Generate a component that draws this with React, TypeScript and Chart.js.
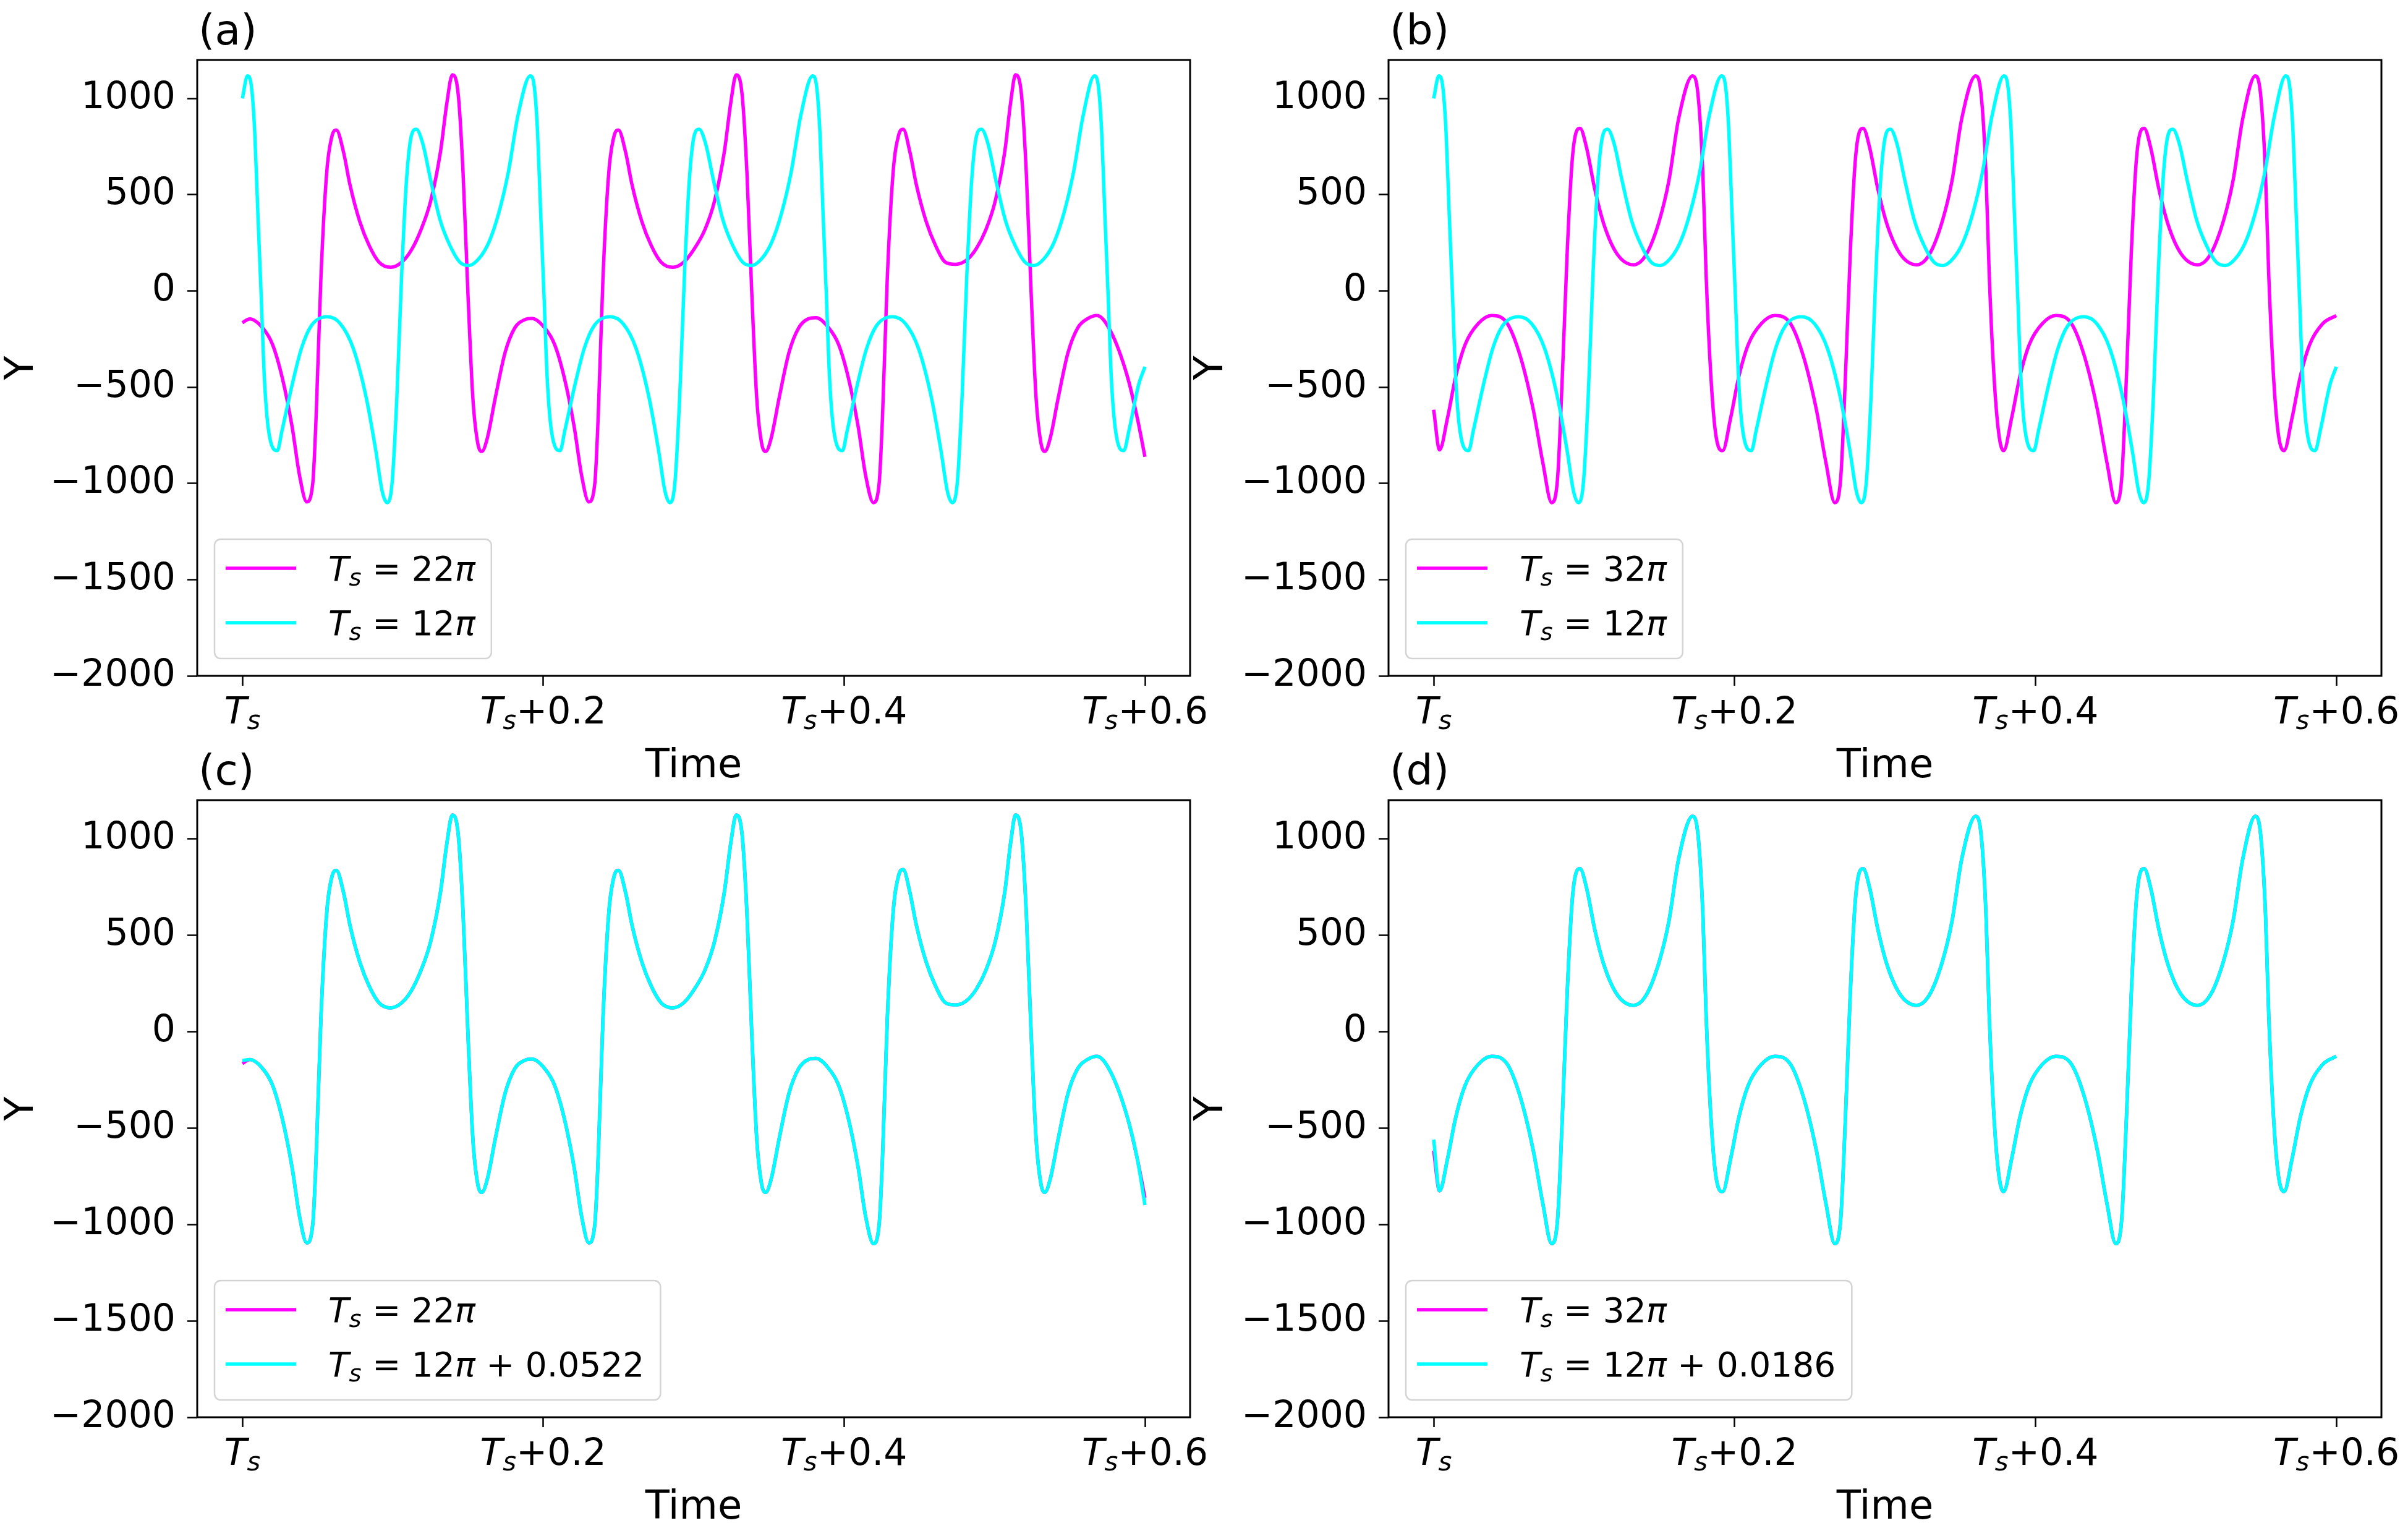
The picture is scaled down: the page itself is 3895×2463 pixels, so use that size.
import React, { useEffect, useRef } from "react";
import { Chart, registerables } from "chart.js";

Chart.register(...registerables);

// ---------- data ----------
// Ts = 22π (time offset from Ts, Y value)
const t22 = [
  0, 0.005, 0.0135, 0.02, 0.0264, 0.033, 0.038, 0.0428, 0.0468, 0.049,
  0.0522, 0.0561, 0.0597, 0.0625, 0.0672, 0.0715, 0.078, 0.0844, 0.0909, 0.0986,
  0.1059, 0.1124, 0.1188, 0.1252, 0.1317, 0.136, 0.1396, 0.1435, 0.1467, 0.15,
  0.1532, 0.1564, 0.1592, 0.1628, 0.1682, 0.1747, 0.1811, 0.1875,
  0.1925, 0.201, 0.2075, 0.2139, 0.2205, 0.2255, 0.2303, 0.2343, 0.2365, 0.2397,
  0.2436, 0.2472, 0.25, 0.2547, 0.259, 0.2655, 0.2719, 0.2784, 0.2861, 0.2934,
  0.2999, 0.3075, 0.3139, 0.3204, 0.3247, 0.3283, 0.3322, 0.3354, 0.3387, 0.3419,
  0.3451, 0.3479, 0.3515, 0.3569, 0.3634, 0.3698, 0.3762,
  0.3813, 0.3898, 0.3963, 0.4027, 0.4093, 0.4143, 0.4195, 0.4233, 0.4255, 0.4287,
  0.4326, 0.4362, 0.4393, 0.4437, 0.448, 0.4545, 0.4609, 0.4674, 0.4741, 0.4814,
  0.4879, 0.4943, 0.5005, 0.5068, 0.5107, 0.514, 0.5179, 0.5211, 0.5244, 0.5276,
  0.5308, 0.5334, 0.537, 0.5424, 0.5489, 0.5553, 0.5617,
  0.5681, 0.5774, 0.5884, 0.5949, 0.6,
];
const y22 = [
  -165, -145, -192, -277, -447, -702, -958, -1096, -1000, -660,
  64, 617, 808, 836, 723, 553, 362, 234, 149, 123,
  149, 213, 319, 468, 723, 979, 1123, 1021, 617, -21,
  -553, -788, -834, -766, -553, -319, -192, -150,
  -143, -192, -277, -447, -702, -958, -1096, -1000, -660, 64,
  617, 808, 836, 723, 553, 362, 234, 149, 123, 149,
  213, 319, 468, 723, 979, 1123, 1021, 617, -21, -553,
  -788, -834, -766, -553, -319, -192, -145,
  -139, -192, -277, -447, -702, -958, -1100, -1000, -660, 64,
  617, 808, 840, 723, 553, 362, 234, 149, 138, 160,
  220, 319, 468, 723, 979, 1123, 1021, 617, -21, -553,
  -788, -834, -766, -553, -319, -192, -145,
  -128, -213, -447, -660, -862,
];

// Ts = 12π
const t12 = [
  0, 0.0034, 0.006, 0.0082, 0.0103, 0.0125, 0.0146, 0.0174, 0.0232, 0.0264,
  0.033, 0.0393, 0.0458, 0.0565, 0.0651, 0.0737, 0.0823, 0.0887, 0.093, 0.0962,
  0.0995, 0.1027, 0.1059, 0.1091, 0.1124, 0.1156, 0.1199, 0.1252, 0.1317, 0.1381,
  0.1446, 0.1506, 0.1575, 0.164, 0.1704, 0.1768, 0.1833,
  0.1914, 0.194, 0.1962, 0.1983, 0.2005, 0.2026, 0.2054, 0.2112, 0.2144, 0.221,
  0.2273, 0.2338, 0.2445, 0.2531, 0.2617, 0.2703, 0.2767, 0.281, 0.2842, 0.2875,
  0.2907, 0.2939, 0.2971, 0.3004, 0.3036, 0.3079, 0.3132, 0.3197, 0.3261, 0.3326,
  0.3386, 0.3455, 0.352, 0.3584, 0.3648, 0.3713,
  0.3791, 0.3817, 0.3839, 0.386, 0.3882, 0.3903, 0.3931, 0.3989, 0.4021, 0.4087,
  0.415, 0.4215, 0.4322, 0.4408, 0.4494, 0.458, 0.4644, 0.4687, 0.4719, 0.4752,
  0.4784, 0.4816, 0.4848, 0.4881, 0.4913, 0.4956, 0.5009, 0.5074, 0.5138, 0.5203,
  0.5263, 0.5332, 0.5397, 0.5461, 0.5525, 0.559,
  0.5664, 0.569, 0.5712, 0.5733, 0.5755, 0.5776, 0.5804, 0.5859, 0.5894, 0.5957, 0.6,
];
const y12 = [
  1000, 1117, 1064, 830, 404, -21, -447, -724, -830, -724,
  -490, -298, -181, -134, -170, -298, -553, -830, -1043, -1100,
  -1000, -553, 85, 574, 808, 840, 766, 574, 362, 234,
  149, 132, 170, 255, 404, 617, 915,
  1117, 1064, 830, 404, -21, -447, -724, -830, -724, -490,
  -298, -181, -134, -170, -298, -553, -830, -1043, -1100, -1000,
  -553, 85, 574, 808, 840, 766, 574, 362, 234, 149,
  132, 170, 255, 404, 617, 915,
  1117, 1064, 830, 404, -21, -447, -724, -830, -724, -490,
  -298, -181, -134, -170, -298, -553, -830, -1043, -1100, -1000,
  -553, 85, 574, 808, 840, 766, 574, 362, 234, 149,
  132, 170, 255, 404, 617, 915,
  1117, 1064, 830, 404, -21, -447, -724, -830, -724, -490, -394,
];

// Ts = 32π
const t32 = [
  0, 0.0039, 0.0092, 0.0146, 0.021, 0.0296, 0.0387, 0.049, 0.0576, 0.0662,
  0.0726, 0.0784, 0.0823, 0.0855, 0.0887, 0.0919, 0.0945, 0.0973, 0.1016, 0.107,
  0.1134, 0.122, 0.1328, 0.1414, 0.1499, 0.1564, 0.1628, 0.1721, 0.1757, 0.1789,
  0.1811, 0.1843, 0.1875,
  0.1921, 0.1974, 0.2028, 0.2092, 0.2178, 0.2269, 0.2372, 0.2458, 0.2544, 0.2608,
  0.2666, 0.2705, 0.2737, 0.2769, 0.2801, 0.2827, 0.2855, 0.2898, 0.2952, 0.3016,
  0.3102, 0.321, 0.3296, 0.3381, 0.3446, 0.351, 0.3603, 0.3639, 0.3671, 0.3693,
  0.3725, 0.3757,
  0.3789, 0.3842, 0.3896, 0.396, 0.4046, 0.4137, 0.424, 0.4326, 0.4412, 0.4476,
  0.4534, 0.4573, 0.4605, 0.4637, 0.4669, 0.4695, 0.4723, 0.4766, 0.482, 0.4884,
  0.497, 0.5078, 0.5164, 0.5249, 0.5314, 0.5378, 0.5462, 0.5497, 0.5529, 0.5551,
  0.5583, 0.5615,
  0.5653, 0.5706, 0.576, 0.5824, 0.591, 0.6,
];
const y32 = [
  -617, -826, -660, -447, -277, -170, -128, -170, -340, -617,
  -894, -1100, -979, -447, 191, 660, 819, 845, 745, 532,
  340, 191, 136, 191, 362, 574, 894, 1117, 1021, 617,
  85, -447, -745,
  -830, -660, -447, -277, -170, -128, -170, -340, -617, -894,
  -1100, -979, -447, 191, 660, 819, 845, 745, 532, 340,
  191, 136, 191, 362, 574, 894, 1117, 1021, 617, 85,
  -447, -745,
  -830, -660, -447, -277, -170, -128, -170, -340, -617, -894,
  -1100, -979, -447, 191, 660, 819, 845, 745, 532, 340,
  191, 136, 191, 362, 574, 894, 1117, 1021, 617, 85,
  -447, -745,
  -830, -660, -447, -277, -170, -128,
];

// Ts = 12π + 0.0522 follows the 22π curve; only its ends differ visibly
const cCyanStart = -150;
const cCyanEnd = -900;
// Ts = 12π + 0.0186 follows the 32π curve; only its start differs visibly
const dCyanStart = -560;

const y12c = y22.map((v, i) => (i === 0 ? cCyanStart : i === y22.length - 1 ? cCyanEnd : v));
const y12d = y32.map((v, i) => (i === 0 ? dCyanStart : v));

const xTicks = [0, 0.2, 0.4, 0.6];
const xTickSuffix = ["", "+0.2", "+0.4", "+0.6"];
const yTicks = [-2000, -1500, -1000, -500, 0, 500, 1000];
const panelLabels = ["(a)", "(b)", "(c)", "(d)"];
const legendA = ["22π", "12π"];
const legendB = ["32π", "12π"];
const legendC = ["22π", "12π + 0.0522"];
const legendD = ["32π", "12π + 0.0186"];

// ---------- styling ----------
const FONT = '"DejaVu Sans", "Noto Sans", sans-serif';
const MAGENTA = "#ff00ff";
const CYAN = "#00ffff";
const TICK_SIZE = 60;
const AXIS_TITLE_SIZE = 64;
const LEGEND_SIZE = 55;
const LABEL_SIZE = 68;
const LINE_W = 5.5;

type Seg = { s: string; it?: boolean; sub?: boolean };

function drawSegs(ctx: CanvasRenderingContext2D, segs: Seg[], x: number, baseline: number, size: number, draw: boolean) {
  let w = 0;
  for (const g of segs) {
    if (!g.s) continue;
    const fs = g.sub ? size * 0.7 : size;
    ctx.font = `${g.it ? "italic " : ""}${fs}px ${FONT}`;
    if (draw) ctx.fillText(g.s, x + w, baseline + (g.sub ? size * 0.15 : 0));
    w += ctx.measureText(g.s).width;
  }
  return w;
}

function legendSegs(label: string): Seg[] {
  const idx = label.indexOf("π");
  return [
    { s: "T", it: true },
    { s: "s", it: true, sub: true },
    { s: " = " + label.slice(0, idx) },
    { s: "π", it: true },
    { s: label.slice(idx + 1) },
  ];
}

type Series = { t: number[]; y: number[]; color: string; name: string };
type PanelCfg = {
  key: string;
  label: string;
  left: number;
  top: number;
  width: number;
  height: number;
  area: { l: number; t: number; r: number; b: number };
  timeY: number;
  legendW: number;
  series: Series[];
};

const PANELS: PanelCfg[] = [
  {
    key: "a", label: panelLabels[0], left: 0, top: 0, width: 1950, height: 1280,
    area: { l: 319, t: 97, r: 1925, b: 1093 }, timeY: 1240, legendW: 447,
    series: [
      { t: t22, y: y22, color: MAGENTA, name: legendA[0] },
      { t: t12, y: y12, color: CYAN, name: legendA[1] },
    ],
  },
  {
    key: "b", label: panelLabels[1], left: 1924, top: 0, width: 1971, height: 1280,
    area: { l: 322, t: 97, r: 1928, b: 1093 }, timeY: 1240, legendW: 447,
    series: [
      { t: t32, y: y32, color: MAGENTA, name: legendB[0] },
      { t: t12, y: y12, color: CYAN, name: legendB[1] },
    ],
  },
  {
    key: "c", label: panelLabels[2], left: 0, top: 1190, width: 1950, height: 1273,
    area: { l: 319, t: 104, r: 1925, b: 1102 }, timeY: 2439, legendW: 714,
    series: [
      { t: t22, y: y22, color: MAGENTA, name: legendC[0] },
      { t: t22, y: y12c, color: CYAN, name: legendC[1] },
    ],
  },
  {
    key: "d", label: panelLabels[3], left: 1924, top: 1190, width: 1971, height: 1273,
    area: { l: 322, t: 104, r: 1928, b: 1102 }, timeY: 2439, legendW: 714,
    series: [
      { t: t32, y: y32, color: MAGENTA, name: legendD[0] },
      { t: t32, y: y12d, color: CYAN, name: legendD[1] },
    ],
  },
];

function fmtY(v: number) {
  return v < 0 ? "\u2212" + Math.abs(v) : String(v);
}

function makeConfig(p: PanelCfg): any {
  const decor = {
    id: "decor" + p.key,
    afterDraw(chart: any) {
      const ctx: CanvasRenderingContext2D = chart.ctx;
      const a = chart.chartArea;
      ctx.save();
      // frame (all four spines)
      ctx.strokeStyle = "#000";
      ctx.lineWidth = 3;
      ctx.strokeRect(a.left, a.top, a.right - a.left, a.bottom - a.top);
      // panel label
      ctx.fillStyle = "#000";
      ctx.textAlign = "left";
      ctx.textBaseline = "alphabetic";
      ctx.font = `${LABEL_SIZE}px ${FONT}`;
      ctx.fillText(p.label, a.left + 2, a.top - 25);
      // x tick labels (T_s + offset)
      const xs = chart.scales.x;
      xTicks.forEach((v, i) => {
        const segs: Seg[] = [{ s: "T", it: true }, { s: "s", it: true, sub: true }, { s: xTickSuffix[i] }];
        const w = drawSegs(ctx, segs, 0, 0, TICK_SIZE, false);
        drawSegs(ctx, segs, xs.getPixelForValue(v) - w / 2, a.bottom + 77, TICK_SIZE, true);
      });
      // legend
      const rowsW = p.series.map((s) => drawSegs(ctx, legendSegs(s.name), 0, 0, LEGEND_SIZE, false));
      const bw = Math.max(p.legendW, 184 + Math.max(...rowsW) + 26);
      const bh = 193;
      const bx = a.left + 28;
      const by = a.bottom - 28 - bh;
      const r = 10;
      ctx.beginPath();
      ctx.moveTo(bx + r, by);
      ctx.lineTo(bx + bw - r, by);
      ctx.arcTo(bx + bw, by, bx + bw, by + r, r);
      ctx.lineTo(bx + bw, by + bh - r);
      ctx.arcTo(bx + bw, by + bh, bx + bw - r, by + bh, r);
      ctx.lineTo(bx + r, by + bh);
      ctx.arcTo(bx, by + bh, bx, by + bh - r, r);
      ctx.lineTo(bx, by + r);
      ctx.arcTo(bx, by, bx + r, by, r);
      ctx.closePath();
      ctx.fillStyle = "rgba(255,255,255,0.8)";
      ctx.fill();
      ctx.strokeStyle = "#d4d4d4";
      ctx.lineWidth = 2.5;
      ctx.stroke();
      p.series.forEach((s, i) => {
        const ly = by + 47 + i * 88;
        ctx.strokeStyle = s.color;
        ctx.lineWidth = LINE_W;
        ctx.beginPath();
        ctx.moveTo(bx + 18, ly);
        ctx.lineTo(bx + 132, ly);
        ctx.stroke();
        ctx.fillStyle = "#000";
        drawSegs(ctx, legendSegs(s.name), bx + 184, ly + 20, LEGEND_SIZE, true);
      });
      ctx.restore();
    },
  };

  const gridOpts = {
    drawOnChartArea: false,
    drawTicks: true,
    tickLength: 16,
    tickWidth: 2.5,
    tickColor: "#000",
    color: "#000",
  };
  const titleOffset = (AXIS_TITLE_SIZE * 1.2) / 2;
  const timePadBottom = p.height - titleOffset - (p.timeY - p.top);

  return {
    type: "line",
    data: {
      datasets: p.series.map((s, i) => ({
        label: s.name,
        data: s.t.map((x, k) => ({ x, y: s.y[k] })),
        borderColor: s.color,
        backgroundColor: s.color,
        borderWidth: LINE_W,
        pointRadius: 0,
        pointHoverRadius: 0,
        fill: false,
        cubicInterpolationMode: "monotone",
        order: i === 0 ? 1 : 0,
      })),
    },
    options: {
      animation: false,
      responsive: false,
      maintainAspectRatio: false,
      devicePixelRatio: 1,
      events: [],
      layout: { padding: { left: 0, top: p.area.t, right: p.width - p.area.r, bottom: 0 } },
      plugins: { legend: { display: false }, tooltip: { enabled: false }, title: { display: false } },
      scales: {
        x: {
          type: "linear",
          min: -0.03,
          max: 0.63,
          afterBuildTicks: (s: any) => {
            s.ticks = xTicks.map((v) => ({ value: v }));
          },
          afterFit: (s: any) => {
            s.height = p.height - p.area.b;
          },
          ticks: { display: false },
          grid: gridOpts,
          border: { display: false },
          title: {
            display: true,
            text: "Time",
            color: "#000",
            font: { family: FONT, size: AXIS_TITLE_SIZE },
            padding: { top: 0, bottom: timePadBottom },
          },
        },
        y: {
          type: "linear",
          min: -2000,
          max: 1200,
          afterBuildTicks: (s: any) => {
            s.ticks = yTicks.map((v) => ({ value: v }));
          },
          afterFit: (s: any) => {
            s.width = p.area.l;
          },
          ticks: {
            color: "#000",
            padding: 19,
            font: { family: FONT, size: TICK_SIZE },
            callback: (v: any) => fmtY(Number(v)),
          },
          grid: gridOpts,
          border: { display: false },
          title: {
            display: true,
            text: "Y",
            color: "#000",
            font: { family: FONT, size: AXIS_TITLE_SIZE },
            padding: { top: -2, bottom: 0 },
          },
        },
      },
    },
    plugins: [decor],
  };
}

function Panel({ p }: { p: PanelCfg }) {
  const ref = useRef<HTMLCanvasElement>(null);
  useEffect(() => {
    if (!ref.current) return;
    const chart = new Chart(ref.current, makeConfig(p));
    return () => chart.destroy();
  }, [p]);
  return (
    <canvas
      ref={ref}
      width={p.width}
      height={p.height}
      style={{ position: "absolute", left: p.left, top: p.top, width: p.width, height: p.height }}
    />
  );
}

export default function App() {
  return (
    <div
      style={{
        position: "absolute",
        left: 0,
        top: 0,
        width: 3895,
        height: 2463,
        background: "#fff",
        overflow: "hidden",
      }}
    >
      {PANELS.map((p) => (
        <Panel key={p.key} p={p} />
      ))}
    </div>
  );
}
